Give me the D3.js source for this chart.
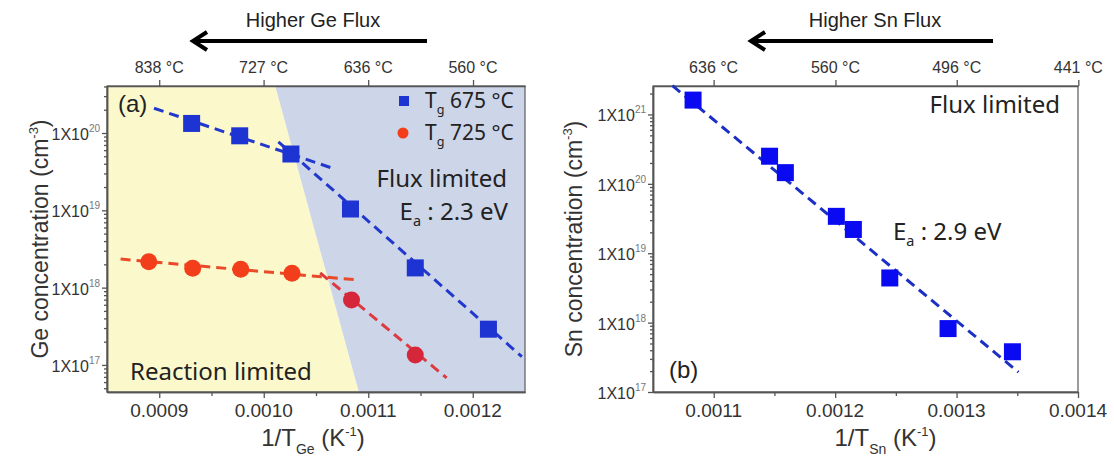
<!DOCTYPE html>
<html>
<head>
<meta charset="utf-8">
<script src="https://cdn.jsdelivr.net/npm/d3@7"></script>
<style>
  body { margin: 0; background: #fff; }
</style>
</head>
<body>
<div id="chart"></div>
<script>
// ---- panel (a): Ge ----
const geXTicks = [0.0009, 0.0010, 0.0011, 0.0012];
const geXMinor = [0.00095, 0.00105, 0.00115];
const geTopTemps = [838, 727, 636, 560];
const geYTicks = [1e17, 1e18, 1e19, 1e20];

// Tg 675 °C (squares)
const geBlueX = [0.000931, 0.000977, 0.001026, 0.001083, 0.001145, 0.001215];
const geBlueY = [1.33e20, 9.2e19, 5.35e19, 1.04e19, 1.8e18, 2.9e17];
// Tg 725 °C (circles)
const geRedX = [0.000890, 0.000932, 0.000978, 0.001027, 0.001084, 0.001145];
const geRedY = [2.16e18, 1.78e18, 1.73e18, 1.53e18, 6.9e17, 1.34e17];

// dashed fits, [x, y] end points
const geBlueFitReaction = [[0.000895, 2.09e20], [0.001069, 3.39e19]];
const geBlueFitFlux = [[0.001014, 7.7e19], [0.001247, 1.28e17]];
const geRedFitReaction = [[0.000863, 2.34e18], [0.001089, 1.26e18]];
const geRedFitFlux = [[0.001054, 1.55e18], [0.001175, 6.8e16]];

// boundary between reaction / flux limited regions (x at top, x at bottom)
const geBoundaryX = [0.001011, 0.001091];

// ---- panel (b): Sn ----
const snXTicks = [0.0011, 0.0012, 0.0013, 0.0014];
const snXMinor = [0.00115, 0.00125, 0.00135];
const snTopTemps = [636, 560, 496, 441];
const snYTicks = [1e17, 1e18, 1e19, 1e20, 1e21];

const snX = [0.001083, 0.001146, 0.001159, 0.001201, 0.001215, 0.001245, 0.001293, 0.001346];
const snY = [1.61e21, 2.5e20, 1.45e20, 3.4e19, 2.2e19, 4.4e18, 8.2e17, 3.8e17];
const snFit = [[0.001066, 2.6e21], [0.001351, 1.93e17]];

const W = 1114, H = 460;
const AXIS = '#555';
const TXT = '#333';
const SANS = 'Arial, "Liberation Sans", sans-serif';
const ANNO = '"Noto Sans", "Open Sans", sans-serif';

const svg = d3.select('#chart')
  .append('svg')
  .attr('width', W)
  .attr('height', H);

function minorLog(domain) {
  const out = [];
  const e0 = Math.floor(Math.log10(domain[0]));
  const e1 = Math.ceil(Math.log10(domain[1]));
  for (let e = e0; e <= e1; e++) {
    for (let k = 2; k <= 9; k++) {
      const v = k * Math.pow(10, e);
      if (v >= domain[0] && v <= domain[1]) out.push(v);
    }
  }
  return out;
}

function drawPanel(p) {
  const x = d3.scaleLinear().domain(p.xDomain).range([p.left, p.right]);
  const y = d3.scaleLog().domain(p.yDomain).range([p.bottom, p.top]);
  const g = svg.append('g').attr('class', p.name);

  // shaded regions
  if (p.boundary) {
    const bx0 = x(p.boundary[0]), bx1 = x(p.boundary[1]);
    g.append('polygon')
      .attr('points', [[p.left, p.top], [bx0, p.top], [bx1, p.bottom], [p.left, p.bottom]].join(' '))
      .attr('fill', '#fbf9cb');
    g.append('polygon')
      .attr('points', [[bx0, p.top], [p.right, p.top], [p.right, p.bottom], [bx1, p.bottom]].join(' '))
      .attr('fill', '#cdd5e9');
  }

  // frame
  g.append('rect')
    .attr('x', p.left).attr('y', p.top)
    .attr('width', p.right - p.left).attr('height', p.bottom - p.top)
    .attr('fill', 'none').attr('stroke', '#666').attr('stroke-width', 1.3);

  const styleAxis = sel => {
    sel.selectAll('path').attr('stroke', AXIS).attr('stroke-width', 1.5);
    sel.selectAll('line').attr('stroke', AXIS).attr('stroke-width', 1.3);
  };

  // bottom axis
  g.append('g')
    .attr('transform', `translate(0,${p.bottom})`)
    .call(d3.axisBottom(x).tickValues(p.xTicks).tickSize(6).tickSizeOuter(0).tickFormat(''))
    .call(styleAxis);
  g.append('g')
    .attr('transform', `translate(0,${p.bottom})`)
    .call(d3.axisBottom(x).tickValues(p.xMinor).tickSize(4).tickSizeOuter(0).tickFormat(''))
    .call(styleAxis);
  g.selectAll('text.xtick')
    .data(p.xTicks)
    .enter()
    .append('text')
    .attr('class', 'xtick')
    .attr('x', d => x(d))
    .attr('y', p.bottom + 25)
    .attr('text-anchor', 'middle')
    .attr('font-family', SANS)
    .attr('font-size', 19)
    .attr('fill', TXT)
    .text(d => d.toFixed(4));

  // top axis in temperature
  const topPos = p.topTemps.map(t => 1 / (t + 273.15));
  g.append('g')
    .attr('transform', `translate(0,${p.top})`)
    .call(d3.axisTop(x).tickValues(topPos).tickSize(6).tickSizeOuter(0).tickFormat(''))
    .call(styleAxis);
  g.selectAll('text.ttick')
    .data(p.topTemps)
    .enter()
    .append('text')
    .attr('class', 'ttick')
    .attr('x', d => x(1 / (d + 273.15)))
    .attr('y', p.top - 13)
    .attr('text-anchor', 'middle')
    .attr('font-family', SANS)
    .attr('font-size', 16)
    .attr('fill', TXT)
    .text(d => `${d} °C`);

  // left axis (log)
  g.append('g')
    .attr('transform', `translate(${p.left},0)`)
    .call(d3.axisLeft(y).tickValues(p.yTicks).tickSize(5).tickSizeOuter(0).tickFormat(''))
    .call(styleAxis);
  g.append('g')
    .attr('transform', `translate(${p.left},0)`)
    .call(d3.axisLeft(y).tickValues(minorLog(p.yDomain)).tickSize(3).tickSizeOuter(0).tickFormat(''))
    .call(styleAxis);
  const yl = g.selectAll('text.ytick')
    .data(p.yTicks)
    .enter()
    .append('text')
    .attr('class', 'ytick')
    .attr('x', p.left - 7)
    .attr('y', d => y(d) + 7)
    .attr('text-anchor', 'end')
    .attr('font-family', SANS)
    .attr('fill', TXT);
  yl.append('tspan').attr('font-size', 16).text('1X10');
  yl.append('tspan').attr('font-size', 10).attr('dy', -8).attr('fill', '#777')
    .text(d => Math.round(Math.log10(d)));

  // axis titles
  const xt = g.append('text')
    .attr('x', (p.left + p.right) / 2 + p.xTitleShift)
    .attr('y', 446)
    .attr('text-anchor', 'middle')
    .attr('font-family', SANS)
    .attr('font-size', 24)
    .attr('fill', TXT);
  xt.append('tspan').text('1/T');
  xt.append('tspan').attr('font-size', 14).attr('dy', 8).text(p.sub);
  xt.append('tspan').attr('dy', -8).text(' (K');
  xt.append('tspan').attr('font-size', 13).attr('dy', -10).text('-1');
  xt.append('tspan').attr('dy', 10).text(')');

  const yt = g.append('text')
    .attr('transform', `translate(${p.yTitleX},${(p.top + p.bottom) / 2}) rotate(-90)`)
    .attr('text-anchor', 'middle')
    .attr('font-family', SANS)
    .attr('font-size', 23)
    .attr('fill', TXT);
  yt.append('tspan').text(p.yTitle + ' (cm');
  yt.append('tspan').attr('font-size', 13).attr('dy', -10).text('-3');
  yt.append('tspan').attr('dy', 10).text(')');

  // flux arrow
  const ax0 = p.arrow[0], ax1 = p.arrow[1], ay = 41;
  g.append('line')
    .attr('x1', ax1).attr('y1', ay).attr('x2', ax0 + 2).attr('y2', ay)
    .attr('stroke', '#000').attr('stroke-width', 4);
  g.append('path')
    .attr('d', `M${ax0 + 14},${ay - 9} L${ax0},${ay} L${ax0 + 14},${ay + 9}`)
    .attr('fill', 'none').attr('stroke', '#000').attr('stroke-width', 4)
    .attr('stroke-linejoin', 'miter');
  g.append('text')
    .attr('x', (ax0 + ax1) / 2 + 3)
    .attr('y', 27)
    .attr('text-anchor', 'middle')
    .attr('font-family', SANS)
    .attr('font-size', 20)
    .attr('fill', '#222')
    .text(p.arrowText);

  return { x, y, g };
}

function dashed(panel, pts, color) {
  const line = d3.line().x(d => panel.x(d[0])).y(d => panel.y(d[1]));
  panel.g.append('path')
    .attr('d', line(pts))
    .attr('fill', 'none')
    .attr('stroke', color)
    .attr('stroke-width', 3)
    .attr('stroke-dasharray', '10,6');
}

function squares(panel, xs, ys, color, size) {
  panel.g.append('g')
    .selectAll('rect')
    .data(xs.map((v, i) => [v, ys[i]]))
    .enter()
    .append('rect')
    .attr('x', d => panel.x(d[0]) - size / 2)
    .attr('y', d => panel.y(d[1]) - size / 2)
    .attr('width', size)
    .attr('height', size)
    .attr('fill', color);
}

function subText(g, xPos, yPos, main, sub, rest, size, anchor) {
  const t = g.append('text')
    .attr('x', xPos).attr('y', yPos)
    .attr('text-anchor', anchor || 'start')
    .attr('font-family', ANNO)
    .attr('font-size', size)
    .attr('fill', '#222');
  t.append('tspan').text(main);
  t.append('tspan').attr('font-size', size * 0.6).attr('dy', 6).text(sub);
  t.append('tspan').attr('dy', -6).text(rest);
  return t;
}

// ---------- panel (a) ----------
const pa = drawPanel({
  name: 'ge',
  left: 107, right: 525, top: 86, bottom: 392,
  xDomain: [0.00085, 0.00125],
  yDomain: [Math.pow(10, 16.65), Math.pow(10, 20.608)],
  xTicks: geXTicks, xMinor: geXMinor,
  topTemps: geTopTemps, yTicks: geYTicks,
  boundary: geBoundaryX,
  sub: 'Ge', xTitleShift: -3,
  yTitle: 'Ge concentration', yTitleX: 48,
  arrow: [193, 427], arrowText: 'Higher Ge Flux'
});

dashed(pa, geBlueFitReaction, '#2238cc');
dashed(pa, geBlueFitFlux, '#2238cc');
dashed(pa, geRedFitReaction, '#ea4a2a');
dashed(pa, geRedFitFlux, '#dc3a40');

squares(pa, geBlueX, geBlueY, '#1d33d2', 17);

pa.g.append('g')
  .selectAll('circle')
  .data(geRedX.map((v, i) => [v, geRedY[i]]))
  .enter()
  .append('circle')
  .attr('cx', d => pa.x(d[0]))
  .attr('cy', d => pa.y(d[1]))
  .attr('r', 8.5)
  // circles sitting in the flux limited (blue) area look darker
  .attr('fill', d => d[0] > 0.00106 ? '#d6263a' : '#f23e1a');

// legend
pa.g.append('rect').attr('x', 399).attr('y', 96).attr('width', 10).attr('height', 10).attr('fill', '#1d33d2');
pa.g.append('circle').attr('cx', 403).attr('cy', 133).attr('r', 5.5).attr('fill', '#f23e1a');
subText(pa.g, 425, 108, 'T', 'g', ' 675 °C', 21);
subText(pa.g, 425, 140, 'T', 'g', ' 725 °C', 21);

pa.g.append('text')
  .attr('x', 118).attr('y', 112)
  .attr('font-family', SANS).attr('font-size', 24).attr('fill', '#222')
  .text('(a)');
pa.g.append('text')
  .attr('x', 507).attr('y', 187).attr('text-anchor', 'end')
  .attr('font-family', ANNO).attr('font-size', 24).attr('fill', '#222')
  .text('Flux limited');
subText(pa.g, 508, 220, 'E', 'a', ' : 2.3 eV', 24, 'end');
pa.g.append('text')
  .attr('x', 130).attr('y', 380)
  .attr('font-family', ANNO).attr('font-size', 24).attr('fill', '#222')
  .text('Reaction limited');

// ---------- panel (b) ----------
const pb = drawPanel({
  name: 'sn',
  left: 653, right: 1078, top: 86, bottom: 392,
  xDomain: [0.00105, 0.0014],
  yDomain: [1e17, Math.pow(10, 21.41)],
  xTicks: snXTicks, xMinor: snXMinor,
  topTemps: snTopTemps, yTicks: snYTicks,
  boundary: null,
  sub: 'Sn', xTitleShift: 20,
  yTitle: 'Sn concentration', yTitleX: 582,
  arrow: [751, 993], arrowText: 'Higher Sn Flux'
});

dashed(pb, snFit, '#1c2fc4');
squares(pb, snX, snY, '#0a0af2', 17);

pb.g.append('text')
  .attr('x', 1060).attr('y', 113).attr('text-anchor', 'end')
  .attr('font-family', ANNO).attr('font-size', 24).attr('fill', '#222')
  .text('Flux limited');
subText(pb.g, 893, 240, 'E', 'a', ' : 2.9 eV', 24);
pb.g.append('text')
  .attr('x', 669).attr('y', 378)
  .attr('font-family', SANS).attr('font-size', 24).attr('fill', '#222')
  .text('(b)');
</script>
</body>
</html>
